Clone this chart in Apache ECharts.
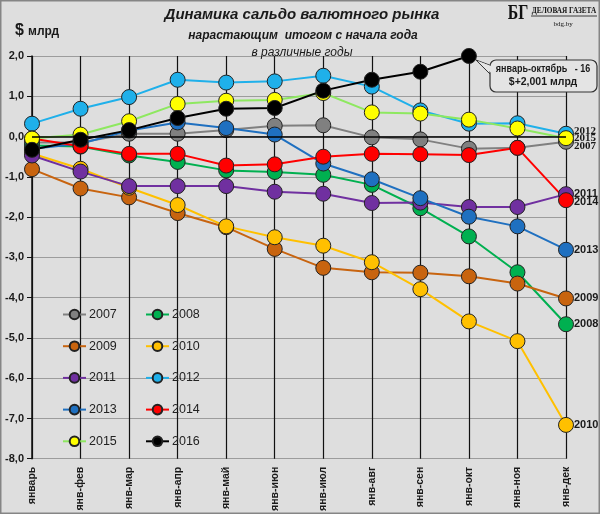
<!DOCTYPE html>
<html><head><meta charset="utf-8">
<script src="https://cdn.jsdelivr.net/npm/echarts@6/dist/echarts.min.js"></script>
<style>html,body{margin:0;padding:0;background:#dedede}#c{width:600px;height:514px}</style>
</head><body><div id="c"></div>
<script>
const categories = ['январь','янв-фев','янв-мар','янв-апр','янв-май','янв-июн','янв-июл','янв-авг','янв-сен','янв-окт','янв-ноя','янв-дек'];
const years = ['2007','2008','2009','2010','2011','2012','2013','2014','2015','2016'];
const y2007 = [-0.15,-0.15,0.07,0.07,0.16,0.27,0.28,-0.02,-0.07,-0.30,-0.28,-0.13];
const y2008 = [-0.22,-0.25,-0.47,-0.63,-0.84,-0.88,-0.95,-1.20,-1.78,-2.48,-3.37,-4.66];
const y2009 = [-0.81,-1.29,-1.51,-1.90,-2.25,-2.79,-3.26,-3.37,-3.38,-3.47,-3.65,-4.02];
const y2010 = [-0.42,-0.80,-1.27,-1.70,-2.23,-2.50,-2.71,-3.12,-3.79,-4.59,-5.08,-7.16];
const y2011 = [-0.47,-0.87,-1.23,-1.23,-1.23,-1.37,-1.42,-1.65,-1.64,-1.75,-1.75,-1.43];
const y2012 = [0.32,0.69,0.98,1.41,1.34,1.37,1.51,1.24,0.65,0.32,0.33,0.07];
const y2013 = [-0.30,-0.18,0.15,0.35,0.21,0.05,-0.67,-1.06,-1.53,-1.99,-2.23,-2.81];
const y2014 = [-0.05,-0.24,-0.43,-0.43,-0.72,-0.69,-0.50,-0.43,-0.44,-0.46,-0.28,-1.58];
const y2015 = [-0.05,0.05,0.38,0.81,0.89,0.91,1.08,0.60,0.57,0.42,0.20,-0.04];
const y2016 = [-0.33,-0.08,0.16,0.46,0.69,0.71,1.14,1.41,1.61,2.001,null,null];
const values = [y2007,y2008,y2009,y2010,y2011,y2012,y2013,y2014,y2015,y2016];

// styles (not data)
const lineColors = ['#808080','#00b050','#c8640f','#ffc000','#7030a0','#1fb0ea','#1f70c0','#ff0000','#8ee860','#000000'];
const fillColors = ['#808080','#00b050','#c8640f','#ffc000','#7030a0','#1fb0ea','#1f70c0','#ff0000','#ffff00','#000000'];
const endLabelDy = [4,0,0,0,0,-3,0,2,0,null];
const endLabelFont = ['Liberation Serif','Liberation Sans','Liberation Sans','Liberation Sans','Liberation Sans','Liberation Serif','Liberation Sans','Liberation Sans','Liberation Serif',null];

const FONT = 'Liberation Sans';
const chart = echarts.init(document.getElementById('c'));

const series = years.map((name, k) => {
  const vals = values[k];
  const last = vals.length - 1;
  const data = vals.map((v, i) => {
    if (i === last && v !== null && endLabelDy[k] !== null) {
      return {value: v, label: {show: true, position: 'right', distance: 0, offset: [0, endLabelDy[k]],
        formatter: name, fontSize: 11, fontWeight: 'bold', color: '#1a1a1a', fontFamily: endLabelFont[k]}};
    }
    return v;
  });
  const s = {
    name, type: 'line', data, symbol: 'circle', symbolSize: 15,
    lineStyle: {color: lineColors[k], width: 2},
    itemStyle: {color: fillColors[k], borderColor: '#222', borderWidth: 1},
    emphasis: {disabled: true}, animation: false, connectNulls: false
  };
  if (k === 0) {
    s.markLine = {silent: true, symbol: 'none', label: {show: false}, animation: false,
      lineStyle: {color: '#000', type: 'solid', width: 1.5}, data: [{yAxis: 0}]};
  }
  return s;
});

const legendBase = {orient: 'vertical', top: 303, itemWidth: 23, itemHeight: 12, itemGap: 18.7,
  textStyle: {fontSize: 12.5, color: '#222', fontFamily: FONT, padding: [0,0,0,-2]}, selectedMode: false};

chart.setOption({
  backgroundColor: '#dedede',
  animation: false,
  grid: {left: 32, right: 34, top: 56, bottom: 53},
  xAxis: {
    type: 'category', data: categories, boundaryGap: false,
    axisLine: {show: false, onZero: false}, axisTick: {show: false},
    splitLine: {show: true, lineStyle: {color: '#111', width: 1.2}},
    axisLabel: {rotate: 90, margin: 8, fontSize: 10.5, fontWeight: 'bold', color: '#1a1a1a', fontFamily: FONT, interval: 0}
  },
  yAxis: {
    type: 'value', min: -8, max: 2, interval: 1,
    axisLine: {show: true, lineStyle: {color: '#111', width: 1.5}},
    axisTick: {show: true, length: 5, lineStyle: {color: '#111'}},
    splitLine: {show: true, lineStyle: {color: '#9c9c9c', width: 1}},
    axisLabel: {margin: 8, fontSize: 11, fontWeight: 'bold', color: '#1a1a1a', fontFamily: FONT,
      formatter: v => v.toFixed(1).replace('.', ',')}
  },
  legend: [
    Object.assign({}, legendBase, {left: 57, data: ['2007','2009','2011','2013','2015']}),
    Object.assign({}, legendBase, {left: 140, data: ['2008','2010','2012','2014','2016']})
  ],
  series
});

// annotation anchored to the 2016 October point
const pt = chart.convertToPixel({xAxisIndex: 0, yAxisIndex: 0}, [9, y2016[9]]);
chart.setOption({
  graphic: [
    {type: 'rect', shape: {x: 0.75, y: 0.75, width: 598.5, height: 512.5}, style: {fill: 'none', stroke: '#858585', lineWidth: 1.5}, silent: true, z: 100},
    {type: 'text', x: 302, y: 15, style: {text: 'Динамика сальдо валютного рынка', textAlign: 'center', textVerticalAlign: 'middle', font: 'italic bold 15px "Liberation Sans"', fill: '#1a1a1a'}},
    {type: 'text', x: 303, y: 36, style: {text: 'нарастающим  итогом с начала года', textAlign: 'center', textVerticalAlign: 'middle', font: 'italic bold 12px "Liberation Sans"', fill: '#1a1a1a'}},
    {type: 'text', x: 302, y: 53, style: {text: 'в различные годы', textAlign: 'center', textVerticalAlign: 'middle', font: 'italic 12px "Liberation Sans"', fill: '#1a1a1a'}},
    {type: 'text', x: 15, y: 31, style: {text: '$', textVerticalAlign: 'middle', font: 'bold 16px "Liberation Sans"', fill: '#1a1a1a'}},
    {type: 'text', x: 28, y: 32, style: {text: 'млрд', textVerticalAlign: 'middle', font: 'bold 12px "Liberation Sans"', fill: '#1a1a1a'}},
    {type: 'text', x: 518, y: 13, scaleX: 0.72, style: {text: 'БГ', textAlign: 'center', textVerticalAlign: 'middle', font: 'bold 22px "Liberation Serif"', fill: '#111'}},
    {type: 'text', x: 564, y: 11, scaleX: 0.85, style: {text: 'ДЕЛОВАЯ ГАЗЕТА', textAlign: 'center', textVerticalAlign: 'middle', font: 'bold 8.5px "Liberation Serif"', fill: '#111'}},
    {type: 'line', shape: {x1: 531, y1: 16, x2: 597, y2: 16}, style: {stroke: '#111', lineWidth: 0.8}},
    {type: 'text', x: 563, y: 24, style: {text: 'bdg.by', textAlign: 'center', textVerticalAlign: 'middle', font: '7px "Liberation Serif"', fill: '#111'}},
    {type: 'polygon', shape: {points: [[pt[0] + 7, pt[1] + 4], [492, 66], [492, 76]]}, style: {fill: '#e4e4e4', stroke: '#333', lineWidth: 1}, z: 50},
    {type: 'rect', shape: {x: 490, y: 60, width: 107, height: 32, r: 6}, style: {fill: '#e4e4e4', stroke: '#333', lineWidth: 1.2}, z: 51},
    {type: 'polygon', shape: {points: [[pt[0] + 9, pt[1] + 5], [493.5, 67], [493.5, 75]]}, style: {fill: '#e4e4e4'}, z: 52},
    {type: 'text', x: 543, y: 69, z: 53, scaleX: 0.9, style: {text: 'январь-октябрь   - 16', textAlign: 'center', textVerticalAlign: 'middle', font: 'bold 10px "Liberation Sans"', fill: '#1a1a1a'}},
    {type: 'text', x: 543, y: 82, z: 53, style: {text: '$+2,001 млрд', textAlign: 'center', textVerticalAlign: 'middle', font: 'bold 10.5px "Liberation Sans"', fill: '#1a1a1a'}}
  ]
});
</script></body></html>
